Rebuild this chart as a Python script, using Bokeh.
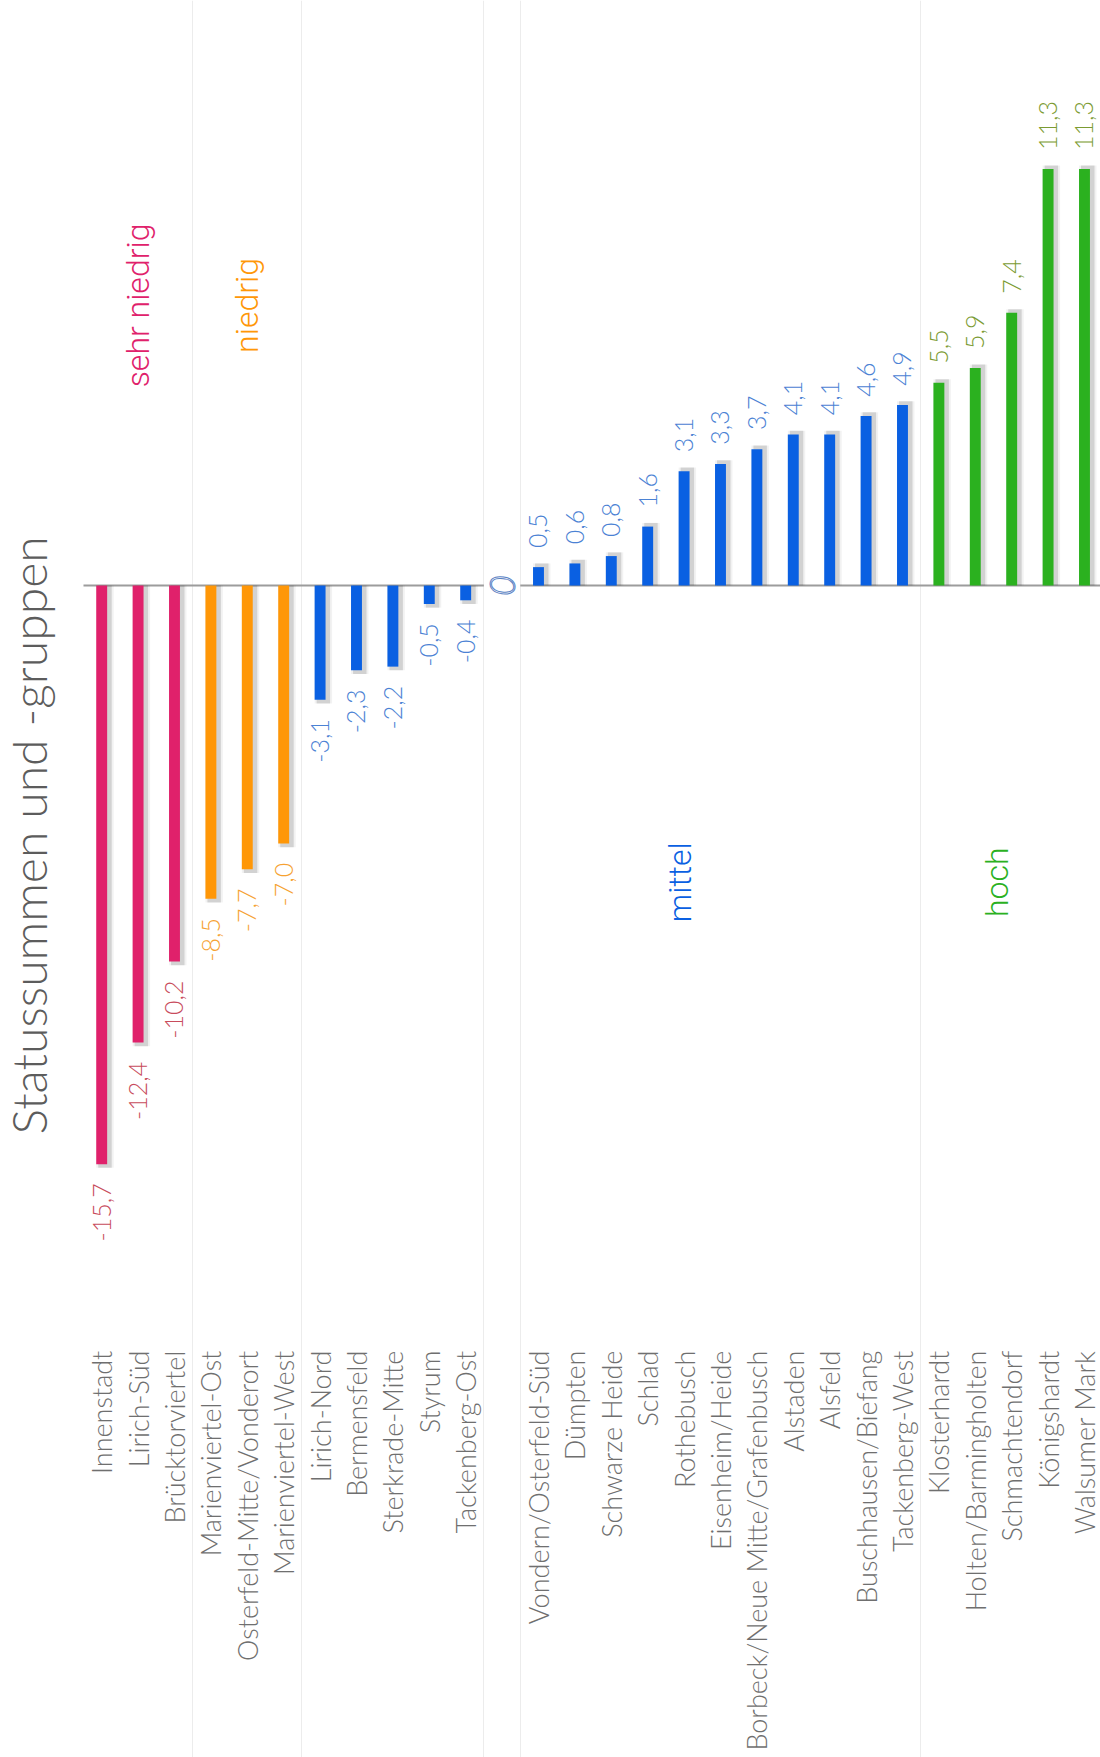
import math
from bokeh.plotting import figure
from bokeh.models import Range1d, FixedTicker, Grid, ColumnDataSource
from bokeh.core.properties import value
from bokeh.embed import file_html
from bokeh.resources import INLINE

# ---------------- data ----------------
districts = ["Innenstadt", "Lirich-Süd", "Brücktorviertel", "Marienviertel-Ost",
             "Osterfeld-Mitte/Vonderort", "Marienviertel-West", "Lirich-Nord",
             "Bermensfeld", "Sterkrade-Mitte", "Styrum", "Tackenberg-Ost",
             "Vondern/Osterfeld-Süd", "Dümpten", "Schwarze Heide", "Schlad",
             "Rothebusch", "Eisenheim/Heide", "Borbeck/Neue Mitte/Grafenbusch",
             "Alstaden", "Alsfeld", "Buschhausen/Biefang", "Tackenberg-West",
             "Klosterhardt", "Holten/Barmingholten", "Schmachtendorf",
             "Königshardt", "Walsumer Mark"]
status_sum = [-15.7, -12.4, -10.2, -8.5, -7.7, -7.0, -3.1, -2.3, -2.2, -0.5, -0.4,
              0.5, 0.6, 0.8, 1.6, 3.1, 3.3, 3.7, 4.1, 4.1, 4.6, 4.9,
              5.5, 5.9, 7.4, 11.3, 11.3]
group = (["sehr niedrig"] * 3 + ["niedrig"] * 3 + ["mittel"] * 16 + ["hoch"] * 5)
group_names = ["sehr niedrig", "niedrig", "mittel", "hoch"]
title_text = "Statussummen und -gruppen"

# ---------------- styles / layout ----------------
bar_color = {"sehr niedrig": "#e0216b", "niedrig": "#ff9707",
             "mittel": "#0a60e2", "hoch": "#2bb11f"}
label_color = {"sehr niedrig": "#c84c5c", "niedrig": "#f6a232",
               "mittel": "#4b82d4", "hoch": "#7b9b32"}
group_label_x = [1.0, 4.0, 15.9, 24.6]
group_label_y = [7.6, 7.6, -8.05, -8.05]
LIGHT = value("'Lato Light', Lato")
GROUP_FONT = value("'Roboto Light', Roboto")

# slot positions: a free slot (the zero mark) separates negative and positive values
xs = [i if v < 0 else i + 1 for i, v in enumerate(status_sum)]
zero_slot = sum(1 for v in status_sum if v < 0)

src = ColumnDataSource(dict(
    x=xs,
    top=status_sum,
    name=districts,
    color=[bar_color[g] for g in group],
    lcolor=[label_color[g] for g in group],
    txt=[f"{v:.1f}".replace(".", ",") for v in status_sum],
    ly=[v + (0.52 if v > 0 else -0.52) for v in status_sum],
    align=["left" if v > 0 else "right" for v in status_sum],
    shx=[x + 0.09 for x in xs],
    shtop=[v + (0.1 if v > 0 else -0.1) for v in status_sum],
))

p = figure(width=1100, height=1757, output_backend="svg", toolbar_location=None,
           x_axis_location=None, y_axis_location=None,
           x_range=Range1d(-2.78, 27.44), y_range=Range1d(-31.80, 15.875),
           min_border=0, min_border_left=0, min_border_right=0,
           min_border_top=0, min_border_bottom=0)
p.outline_line_color = None
p.background_fill_color = "white"
p.border_fill_color = "white"
for g in list(p.grid):
    g.visible = False

grid = Grid(dimension=0, ticker=FixedTicker(ticks=[2.5, 5.5, zero_slot - 0.5,
                                                   zero_slot + 0.5, 22.5]),
            grid_line_color="#ececec", grid_line_width=1)
p.add_layout(grid)

# baseline (interrupted at the zero mark)
p.segment(x0=[-0.5, zero_slot + 0.5], y0=[0, 0], x1=[zero_slot - 0.5, 27.5], y1=[0, 0],
          line_color="#9c9c9c", line_width=2)

# soft shadows
p.vbar(x="shx", top="shtop", bottom=0, width=0.48, source=src,
       fill_color="#000000", fill_alpha=0.05, line_color=None)
p.vbar(x="shx", top="shtop", bottom=0, width=0.37, source=src,
       fill_color="#000000", fill_alpha=0.13, line_color=None)
# bars
p.vbar(x="x", top="top", bottom=0, width=0.30, source=src,
       fill_color="color", line_color=None)

# value labels
p.text(x="x", y="ly", text="txt", source=src, angle=math.pi / 2,
       text_align="align", text_baseline="middle", text_color="lcolor",
       text_font=LIGHT, text_font_size="25px")

# category labels
p.text(x="x", y=-20.76, text="name", source=src, angle=math.pi / 2,
       text_align="right", text_baseline="middle", text_color="#6f6f6f",
       text_font=LIGHT, text_font_size="27px")

# zero mark
try:
    p.text(x=[zero_slot], y=[0], text=["0"], angle=math.pi / 2,
           text_align="center", text_baseline="middle", text_color="white",
           text_outline_color="#5b82c4", text_font=LIGHT,
           text_font_style="italic", text_font_size="36px")
except Exception:
    p.text(x=[zero_slot], y=[0], text=["0"], angle=math.pi / 2,
           text_align="center", text_baseline="middle", text_color="#9db4dc",
           text_font=LIGHT, text_font_style="italic", text_font_size="36px")

# group labels
p.text(x=group_label_x, y=group_label_y, text=group_names, angle=math.pi / 2,
       text_align="center", text_baseline="middle",
       text_color=[bar_color[g] for g in group_names],
       text_font=GROUP_FONT, text_font_size="32px")

# title (vertical)
p.text(x=[-2.0], y=[-6.78], text=[title_text], angle=math.pi / 2,
       text_align="center", text_baseline="alphabetic", text_color="#5c5c5c",
       text_font=LIGHT, text_font_size="48px")

open("out.html", "w").write(file_html(p, INLINE))
